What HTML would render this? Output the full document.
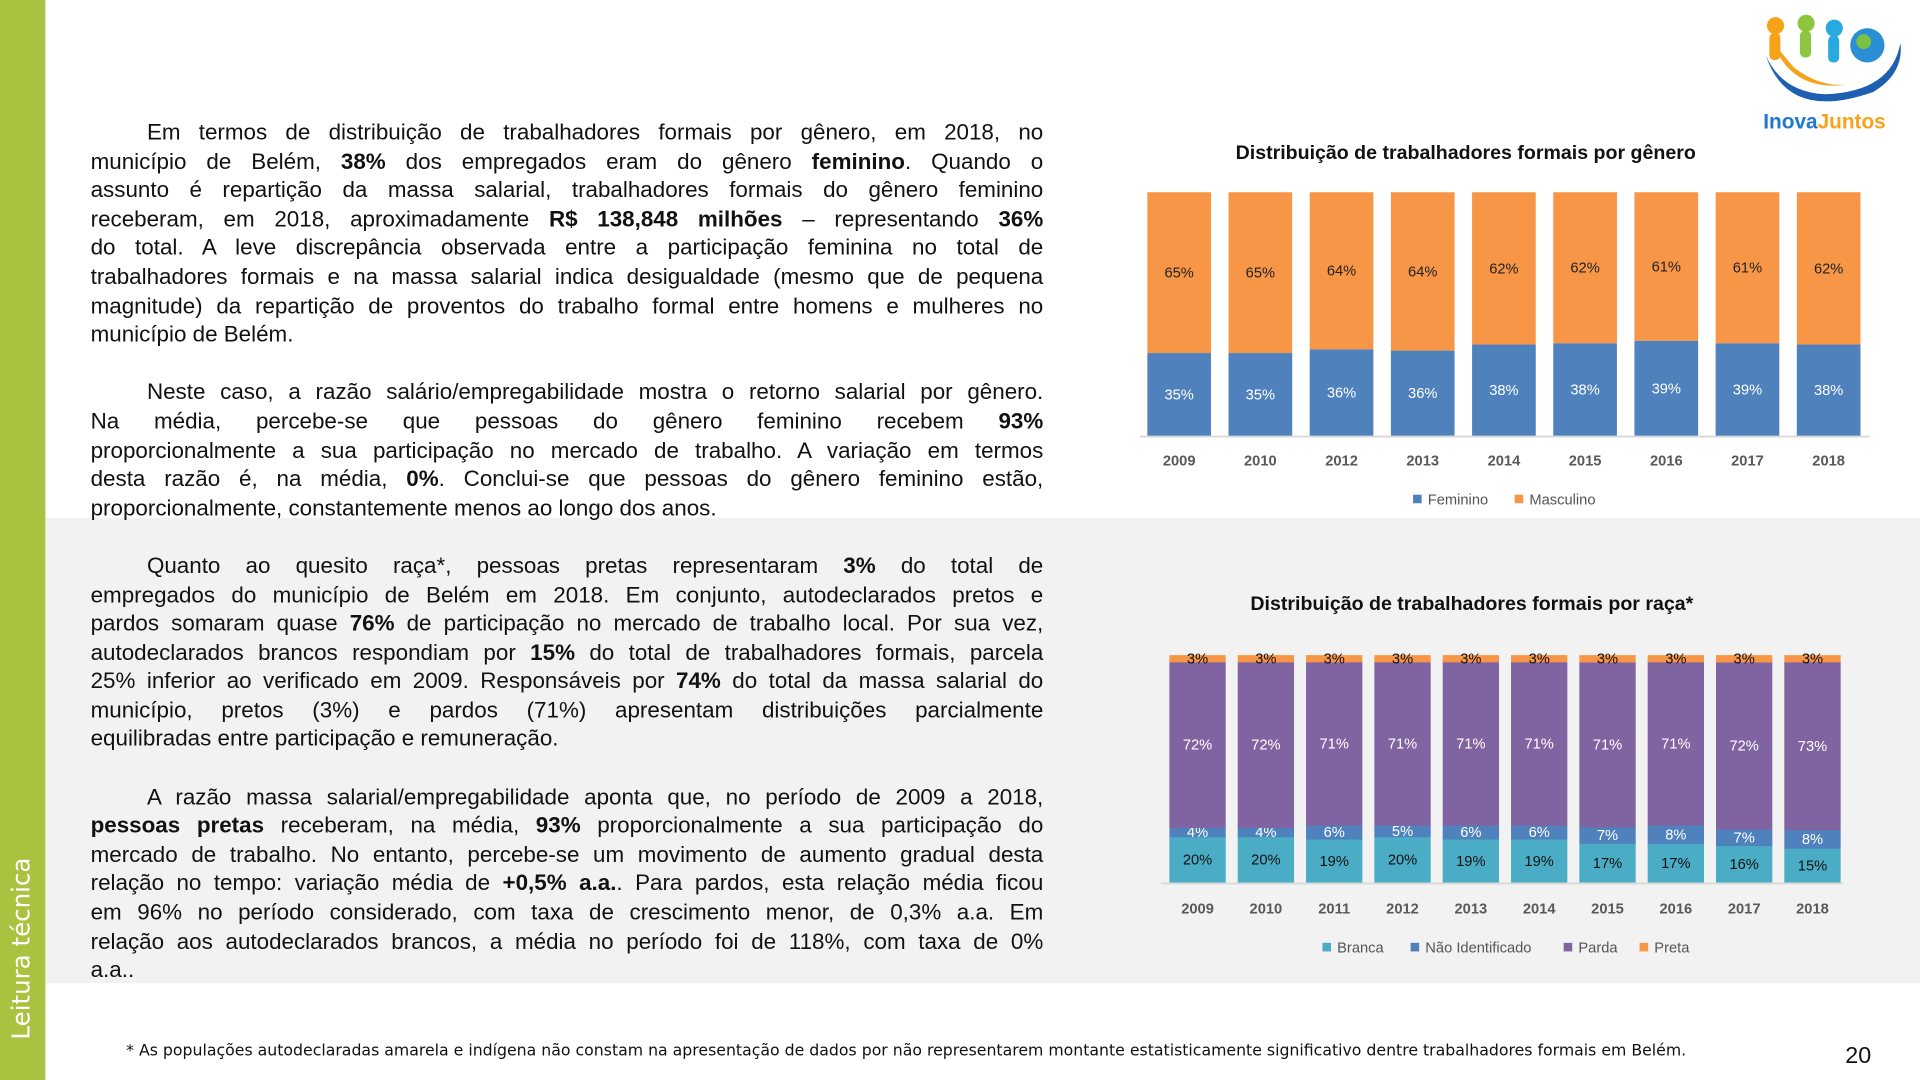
<!DOCTYPE html>
<html><head><meta charset="utf-8"><style>
html,body{margin:0;padding:0;width:1920px;height:1080px;overflow:hidden;background:#fff}
#w{position:absolute;left:0;top:0;width:1568px;height:882px;transform:scale(1.22449);transform-origin:0 0;font-family:"Liberation Sans","DejaVu Sans",sans-serif}
.side{position:absolute;left:0;top:0;width:37px;height:882px;background:#a9c23f}
.band{position:absolute;left:37px;top:423px;width:1531px;height:380px;background:#f2f2f2}
.vt{position:absolute;left:5px;top:849px;transform:rotate(-90deg);transform-origin:0 0;color:#fff;font-size:20px;white-space:nowrap;font-family:"DejaVu Sans",sans-serif}
.txt{position:absolute;left:74px;width:778px;font-size:18.3px;color:#111}
.txt div{height:23.6px;line-height:23.6px;text-align:justify;text-align-last:justify;white-space:nowrap}
.txt div.l{text-align-last:left}
.ind{padding-left:46px}
svg text{font-family:"Liberation Sans",sans-serif}
</style></head><body><div id="w">
<div class="band"></div>
<div class="side"></div>
<div class="vt">Leitura técnica</div>

<div class="txt" style="top:96px">
<div class="ind">Em termos de distribuição de trabalhadores formais por gênero, em 2018, no</div>
<div>município de Belém, <b>38%</b> dos empregados eram do gênero <b>feminino</b>. Quando o</div>
<div>assunto é repartição da massa salarial, trabalhadores formais do gênero feminino</div>
<div>receberam, em 2018, aproximadamente <b>R$ 138,848 milhões</b> – representando <b>36%</b></div>
<div>do total. A leve discrepância observada entre a participação feminina no total de</div>
<div>trabalhadores formais e na massa salarial indica desigualdade (mesmo que de pequena</div>
<div>magnitude) da repartição de proventos do trabalho formal entre homens e mulheres no</div>
<div class="l">município de Belém.</div>
<div></div>
<div class="ind">Neste caso, a razão salário/empregabilidade mostra o retorno salarial por gênero.</div>
<div>Na média, percebe-se que pessoas do gênero feminino recebem <b>93%</b></div>
<div>proporcionalmente a sua participação no mercado de trabalho. A variação em termos</div>
<div>desta razão é, na média, <b>0%</b>. Conclui-se que pessoas do gênero feminino estão,</div>
<div class="l">proporcionalmente, constantemente menos ao longo dos anos.</div>
<div></div>
<div class="ind">Quanto ao quesito raça*, pessoas pretas representaram <b>3%</b> do total de</div>
<div>empregados do município de Belém em 2018. Em conjunto, autodeclarados pretos e</div>
<div>pardos somaram quase <b>76%</b> de participação no mercado de trabalho local. Por sua vez,</div>
<div>autodeclarados brancos respondiam por <b>15%</b> do total de trabalhadores formais, parcela</div>
<div>25% inferior ao verificado em 2009. Responsáveis por <b>74%</b> do total da massa salarial do</div>
<div>município, pretos (3%) e pardos (71%) apresentam distribuições parcialmente</div>
<div class="l">equilibradas entre participação e remuneração.</div>
<div></div>
<div class="ind">A razão massa salarial/empregabilidade aponta que, no período de 2009 a 2018,</div>
<div><b>pessoas pretas</b> receberam, na média, <b>93%</b> proporcionalmente a sua participação do</div>
<div>mercado de trabalho. No entanto, percebe-se um movimento de aumento gradual desta</div>
<div>relação no tempo: variação média de <b>+0,5% a.a.</b>. Para pardos, esta relação média ficou</div>
<div>em 96% no período considerado, com taxa de crescimento menor, de 0,3% a.a. Em</div>
<div>relação aos autodeclarados brancos, a média no período foi de 118%, com taxa de 0%</div>
<div class="l">a.a..</div>
</div>

<div style="position:absolute;left:103px;top:851px;font-size:12.85px;color:#111;font-family:'DejaVu Sans',sans-serif;white-space:nowrap">* As populações autodeclaradas amarela e indígena não constam na apresentação de dados por não representarem montante estatisticamente significativo dentre trabalhadores formais em Belém.</div>
<div style="position:absolute;left:1507px;top:852px;font-size:19px;color:#111">20</div>

<svg style="position:absolute;left:1430px;top:5px" width="135" height="105" viewBox="0 0 135 105">
<path d="M12 40 Q30 95 100 70 Q125 55 122 30 Q115 70 60 72 Q25 70 12 40Z" fill="#1f5fb0"/>
<path d="M18 30 Q35 75 90 62 Q60 70 35 50Z" fill="#f7a21b"/>
<circle cx="20" cy="16" r="7" fill="#f7a21b"/><rect x="15" y="22" width="9" height="22" rx="4" fill="#f7a21b"/>
<circle cx="45" cy="14" r="7" fill="#8cc63f"/><rect x="40" y="20" width="9" height="22" rx="4" fill="#8cc63f"/>
<circle cx="68" cy="18" r="7" fill="#29a9e0"/><rect x="63" y="24" width="9" height="22" rx="4" fill="#29a9e0"/>
<circle cx="95" cy="32" r="14" fill="#2b8fd6"/><circle cx="92" cy="29" r="6" fill="#7cc242"/>
<text x="10" y="100" font-size="17" font-weight="bold" fill="#1f77d0">Inova<tspan fill="#f7a21b">Juntos</tspan></text>
</svg>

<svg style="position:absolute;left:0;top:0" width="1568" height="882">
<text x="1197" y="130" font-size="16" font-weight="bold" text-anchor="middle" fill="#111">Distribuição de trabalhadores formais por gênero</text>
<g id="g1"></g>
<line x1="931" y1="356.5" x2="1527" y2="356.5" stroke="#d9d9d9" stroke-width="1.5"/>
<rect x="1154" y="404" width="7" height="7" fill="#4e81bd"/><text x="1166" y="412" font-size="12" fill="#555">Feminino</text>
<rect x="1237" y="404" width="7" height="7" fill="#f79646"/><text x="1249" y="412" font-size="12" fill="#555">Masculino</text>

<text x="1202" y="498" font-size="16" font-weight="bold" text-anchor="middle" fill="#111">Distribuição de trabalhadores formais por raça*</text>
<g id="g2"></g>
<line x1="948" y1="721.5" x2="1505" y2="721.5" stroke="#d9d9d9" stroke-width="1.5"/>
<rect x="1080" y="770" width="7" height="7" fill="#4bacc6"/><text x="1092" y="778" font-size="12" fill="#555">Branca</text>
<rect x="1152" y="770" width="7" height="7" fill="#4f81bd"/><text x="1164" y="778" font-size="12" fill="#555">Não Identificado</text>
<rect x="1277" y="770" width="7" height="7" fill="#8064a2"/><text x="1289" y="778" font-size="12" fill="#555">Parda</text>
<rect x="1339" y="770" width="7" height="7" fill="#f79646"/><text x="1351" y="778" font-size="12" fill="#555">Preta</text>
</svg>
<script>
(function(){
var NS="http://www.w3.org/2000/svg";
function el(p,t,a,tx){var e=document.createElementNS(NS,t);for(var k in a)e.setAttribute(k,a[k]);if(tx)e.textContent=tx;p.appendChild(e);}
var g1=document.getElementById('g1');
var yrs=['2009','2010','2012','2013','2014','2015','2016','2017','2018'];
var fem=[34,34,35.5,35,37.5,38,39,38,37.5],fl=[35,35,36,36,38,38,39,39,38];
for(var i=0;i<9;i++){var x=937+i*66.3,w=52,yt=157,h=199,fb=h*fem[i]/100,yb=356-fb;
el(g1,'rect',{x:x,y:yt,width:w,height:yb-yt,fill:'#f79646'});
el(g1,'rect',{x:x,y:yb,width:w,height:fb,fill:'#4f81bd'});
el(g1,'text',{x:x+w/2,y:(yt+yb)/2+4,'font-size':12,'text-anchor':'middle',fill:'#222'},(100-fl[i])+'%');
el(g1,'text',{x:x+w/2,y:(yb+356)/2+4,'font-size':12,'text-anchor':'middle',fill:'#fff'},fl[i]+'%');
el(g1,'text',{x:x+w/2,y:380,'font-size':12,'font-weight':'bold','text-anchor':'middle',fill:'#595959'},yrs[i]);}
var g2=document.getElementById('g2');
var y2=['2009','2010','2011','2012','2013','2014','2015','2016','2017','2018'];
var B=[20,20,19,20,19,19,17,17,16,15],N=[4,4,6,5,6,6,7,8,7,8],P=[72,72,71,71,71,71,71,71,72,73];
var cols=['#4bacc6','#4f81bd','#8064a2','#f79646'],tc=['#111','#fff','#fff','#111'];
for(var i=0;i<10;i++){var x=955+i*55.8,w=46,v=[B[i],N[i],P[i],3],s=v[0]+v[1]+v[2]+v[3],y=721,H=186;
for(var k=0;k<4;k++){var hh=H*v[k]/s;el(g2,'rect',{x:x,y:y-hh,width:w,height:hh+0.3,fill:cols[k]});
el(g2,'text',{x:x+w/2,y:k==3?y-hh+7:y-hh/2+4,'font-size':12,'text-anchor':'middle',fill:tc[k]},v[k]+'%');y-=hh;}
el(g2,'text',{x:x+w/2,y:746,'font-size':12,'font-weight':'bold','text-anchor':'middle',fill:'#595959'},y2[i]);}
})();
</script>
</div></body></html>
